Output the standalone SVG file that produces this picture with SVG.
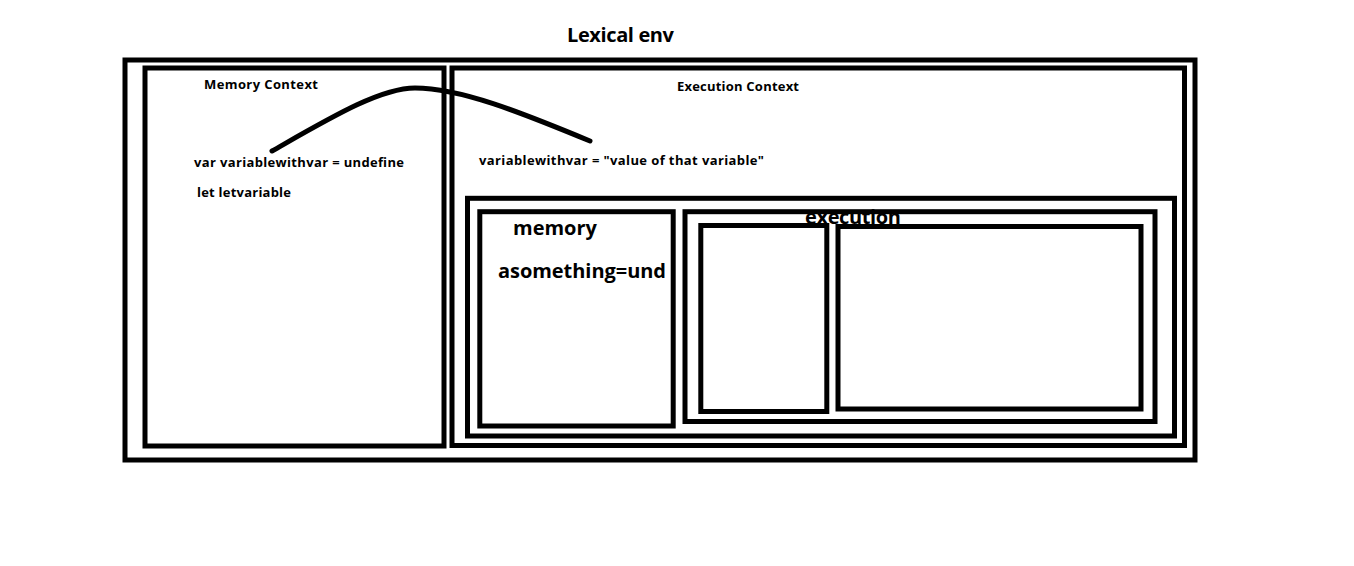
<svg xmlns="http://www.w3.org/2000/svg" width="1354" height="566" viewBox="0 0 1354 566">
<style>
.box{fill:none;stroke:#000;stroke-width:5}
.t{font-family:"Open Sans","Liberation Sans",sans-serif;font-weight:bold;fill:#000}
.s{font-size:13px}
.l{font-size:20px}
.conn{fill:none;stroke:#000;stroke-width:5;stroke-linecap:round}
</style>
<rect width="1354" height="566" fill="#fff"/>
<g id="title"><text class="t l" x="567" y="42" textLength="107">Lexical env</text></g>
<g id="lexical-env"><rect class="box" x="125" y="60" width="1070" height="400"/></g>
<g id="memory-context">
<rect class="box" x="145" y="68" width="299" height="378"/>
<text class="t s" x="204" y="89" textLength="114">Memory Context</text>
<text class="t s" x="194" y="167" textLength="210">var variablewithvar = undefine</text>
<text class="t s" x="197" y="197" textLength="94">let letvariable</text>
</g>
<g id="execution-context">
<rect class="box" x="452" y="68" width="732.5" height="377.5"/>
<text class="t s" x="677" y="91" textLength="122">Execution Context</text>
<text class="t s" x="479" y="165" textLength="285">variablewithvar = "value of that variable"</text>
</g>
<g id="inner-env"><rect class="box" x="467.5" y="198.3" width="707" height="237.7"/></g>
<g id="memory">
<rect class="box" x="479.8" y="211.7" width="193.4" height="214.3"/>
<text class="t l" x="513" y="235" textLength="84">memory</text>
<text class="t l" x="498" y="278" textLength="168">asomething=und</text>
</g>
<g id="execution">
<rect class="box" x="685" y="211.7" width="470" height="209.8"/>
</g>
<g id="exec-left"><rect class="box" x="700.8" y="225.5" width="126" height="186"/></g>
<g id="exec-right"><rect class="box" x="838" y="226.5" width="303" height="182.5"/></g>
<g id="execution-label"><text class="t l" x="805" y="224" textLength="96">execution</text></g>
<g id="connectors">
<path class="conn" d="M272,151 C330,118 380,88 415,88 C460,88 520,112 590,141"/>
</g>
</svg>
